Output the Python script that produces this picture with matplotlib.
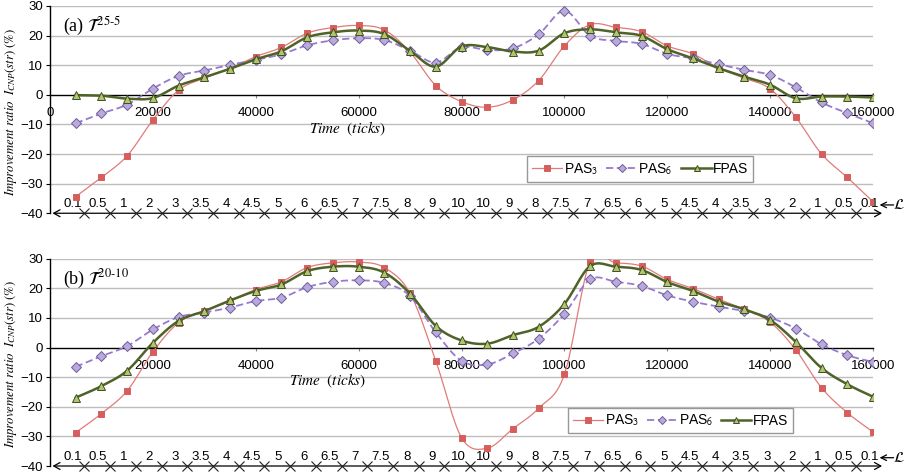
import numpy as np
import matplotlib.pyplot as plt
from matplotlib.lines import Line2D
from matplotlib.transforms import ScaledTranslation

plt.rcParams['font.family'] = ['Liberation Sans', 'DejaVu Sans']
plt.rcParams['mathtext.fontset'] = 'stix'

# sampling times (ticks) and load level L at each sample
t = np.arange(5000, 160001, 5000)
load = ['0.1', '0.5', '1', '2', '3', '3.5', '4', '4.5', '5', '6', '6.5', '7', '7.5', '8', '9', '10',
        '10', '9', '8', '7.5', '7', '6.5', '6', '5', '4.5', '4', '3.5', '3', '2', '1', '0.5', '0.1']
xticks = [0, 20000, 40000, 60000, 80000, 100000, 120000, 140000, 160000]

# (a) T^25-5
pas3_a = [-34.4, -27.9, -20.6, -8.5, 1.6, 5.6, 9.0, 12.9, 16.0, 20.8, 22.7, 23.4, 21.9, 14.4, 3.1, -2.3,
          -4.2, -1.7, 4.8, 16.5, 23.7, 22.8, 21.3, 16.5, 13.8, 9.0, 5.6, 2.0, -7.6, -20.0, -27.9, -36.1]
pas6_a = [-9.6, -6.3, -3.3, 2.1, 6.4, 8.2, 10.1, 11.8, 13.7, 16.7, 18.4, 19.1, 18.5, 14.9, 10.9, 16.1,
          15.1, 15.7, 20.4, 28.4, 19.9, 18.2, 17.2, 13.8, 12.3, 10.3, 8.4, 6.7, 2.5, -2.6, -6.2, -9.6]
fpas_a = [-0.1, -0.3, -1.3, -1.1, 3.1, 5.9, 8.8, 12.0, 14.7, 19.4, 21.1, 21.7, 20.5, 14.8, 9.5, 16.3,
          16.1, 14.6, 14.9, 20.8, 22.1, 21.1, 19.9, 15.4, 12.3, 9.0, 6.1, 3.4, -1.2, -0.6, -0.6, -0.9]

# (b) T^20-10
pas3_b = [-28.7, -22.3, -14.6, -1.4, 8.4, 12.3, 15.7, 19.6, 22.2, 27.0, 28.6, 28.9, 27.0, 18.3, -4.5, -30.4,
          -34.0, -27.4, -20.5, -9.1, 28.9, 28.6, 27.5, 23.0, 19.9, 16.3, 12.9, 8.6, -0.8, -13.6, -22.0, -28.5]
pas6_b = [-6.5, -2.9, 0.5, 6.1, 10.3, 11.8, 13.5, 15.7, 16.8, 20.4, 22.2, 22.7, 21.8, 17.4, 5.1, -4.5,
          -5.7, -2.0, 3.0, 11.4, 23.0, 22.2, 20.8, 17.6, 15.5, 13.8, 12.3, 10.1, 6.4, 1.1, -2.6, -4.9]
fpas_b = [-16.9, -13.0, -7.8, 1.6, 9.0, 12.3, 15.9, 19.1, 21.3, 25.8, 27.3, 27.3, 25.3, 18.2, 7.3, 2.4,
          1.3, 4.2, 7.0, 14.7, 27.5, 27.3, 26.2, 22.1, 19.1, 15.5, 12.9, 9.3, 1.9, -6.9, -12.4, -16.6]

styles = {
    'pas3': dict(color='#e07b79', lw=0.9, ls='-', marker='s', ms=5, mfc='#d65f5d', mec='#d65f5d'),
    'pas6': dict(color='#9679d0', lw=1.3, ls=(0, (4, 2)), marker='D', ms=5, mfc='#b9a9dc', mec='#6f5c9a'),
    'fpas': dict(color='#4f6228', lw=1.8, ls='-', marker='^', ms=6, mfc='#afc66e', mec='#3f4f1f'),
}


def smooth(x, y, n=16):
    # Bezier smoothing through the points (Catmull-Rom style tangents)
    x = np.asarray(x, float)
    y = np.asarray(y, float)
    px = np.concatenate([[x[0]], x, [x[-1]]])
    py = np.concatenate([[y[0]], y, [y[-1]]])
    s = np.linspace(0, 1, n, endpoint=False)[:, None]
    xs, ys = [], []
    for i in range(len(x) - 1):
        p0 = np.array([px[i], py[i]])
        p1 = np.array([px[i + 1], py[i + 1]])
        p2 = np.array([px[i + 2], py[i + 2]])
        p3 = np.array([px[i + 3], py[i + 3]])
        c1 = p1 + (p2 - p0) / 6
        c2 = p2 - (p3 - p1) / 6
        b = (1 - s) ** 3 * p1 + 3 * (1 - s) ** 2 * s * c1 + 3 * (1 - s) * s ** 2 * c2 + s ** 3 * p2
        xs.append(b[:, 0])
        ys.append(b[:, 1])
    xs.append([x[-1]])
    ys.append([y[-1]])
    return np.concatenate(xs), np.concatenate(ys)


def series(ax, y, st, z):
    sx, sy = smooth(t, y)
    ax.plot(sx, sy, color=st['color'], lw=st['lw'], ls=st['ls'], zorder=z)
    ax.plot(t, y, ls='none', marker=st['marker'], ms=st['ms'], mfc=st['mfc'], mec=st['mec'],
            mew=0.7, zorder=z + 0.5)


def panel(ax, pas3, pas6, fpas, tag, sup, leg_box, time_x, show_zero):
    ax.set_xlim(0, 160000)
    ax.set_ylim(-40, 30)
    for v in range(-30, 31, 10):
        if v != 0:
            ax.axhline(v, color='#bdbdbd', lw=1.0, zorder=0)

    series(ax, pas3, styles['pas3'], 3)
    series(ax, pas6, styles['pas6'], 4)
    series(ax, fpas, styles['fpas'], 5)

    for s in ['top', 'right']:
        ax.spines[s].set_visible(False)
    ax.spines['bottom'].set_position(('data', 0))
    ax.spines['bottom'].set_linewidth(1.0)
    ax.spines['left'].set_linewidth(1.0)

    ax.set_yticks(range(-40, 31, 10))
    ax.set_xticks(xticks)
    labels = [str(v) for v in xticks]
    if not show_zero:
        labels[0] = ''
    ax.set_xticklabels(labels)
    ax.tick_params(axis='x', direction='out', length=2, pad=7, labelsize=9.5, color='#888888')
    ax.tick_params(axis='y', direction='out', length=3, pad=2, labelsize=9.5)

    ax.set_ylabel(r'$Improvement\ ratio\ \ I_{CNP}(str)\ (\%)$', fontsize=9.2)
    ax.yaxis.set_label_coords(-0.038, 0.49)

    ax.text(0.016, 0.875, tag + r' $\mathcal{T}^{\mathit{' + sup + '}}$',
            transform=ax.transAxes, fontsize=13, family='Liberation Serif', va='baseline')
    ax.text(time_x, -11.4, r'$Time\ \ (ticks)$', fontsize=11, ha='center', va='center')

    # load axis along the bottom
    yt = ax.get_yaxis_transform()
    ax.annotate('', xy=(0.003, -40), xytext=(1.011, -40), xycoords=yt, textcoords=yt,
                arrowprops=dict(arrowstyle='<->,head_length=0.45,head_width=0.25', lw=0.9,
                                color='black', shrinkA=0, shrinkB=0), annotation_clip=False)
    shift = ax.transData + ScaledTranslation(-3 / 72, 0, ax.figure.dpi_scale_trans)
    mids = (t[:-1] + t[1:]) / 2
    ax.plot(mids, np.full(len(mids), -40), ls='none', marker='x', ms=7, mew=0.8,
            color='#222222', transform=shift, clip_on=False, zorder=6)
    for xv, lab in zip(t, load):
        ax.annotate(lab, (xv, -40), xytext=(-2.5, 2), textcoords='offset points',
                    ha='center', va='bottom', fontsize=9.5, annotation_clip=False)
    ax.annotate('', xy=(1.008, -37.2), xytext=(1.025, -37.2), xycoords=yt, textcoords=yt,
                arrowprops=dict(arrowstyle='->,head_length=0.4,head_width=0.2', lw=0.9,
                                color='black', shrinkA=0, shrinkB=0), annotation_clip=False)
    ax.text(1.032, -37.2, r'$\mathcal{L}$', transform=yt, fontsize=11, ha='center', va='center')

    handles = [Line2D([], [], color=st['color'], lw=st['lw'], ls=st['ls'], marker=st['marker'],
                      ms=st['ms'] - 1, mfc=st['mfc'], mec=st['mec'], mew=0.7)
               for st in styles.values()]
    leg = ax.legend(handles, ['PAS$_\\mathsf{3}$', 'PAS$_\\mathsf{6}$', 'FPAS'], ncol=3,
                    loc='center', bbox_to_anchor=leg_box, mode='expand', fontsize=10,
                    frameon=True, fancybox=False, edgecolor='#7f7f7f', handlelength=2.2,
                    handletextpad=0.1, columnspacing=1.0, borderpad=0.35)
    leg.get_frame().set_linewidth(1.0)
    leg.set_zorder(10)


fig = plt.figure(figsize=(9.11, 4.76), dpi=100)
ax1 = fig.add_axes([0.0549, 0.552, 0.9034, 0.4355])
ax2 = fig.add_axes([0.0549, 0.021, 0.9034, 0.4355])

panel(ax1, pas3_a, pas6_a, fpas_a, '(a)', r'25\text{-}5', (0.571, 0.156, 0.292, 0.116), 57900, True)
panel(ax2, pas3_b, pas6_b, fpas_b, '(b)', r'20\text{-}10', (0.621, 0.159, 0.29, 0.121), 54000, False)

fig.savefig('out.png', dpi=100)
